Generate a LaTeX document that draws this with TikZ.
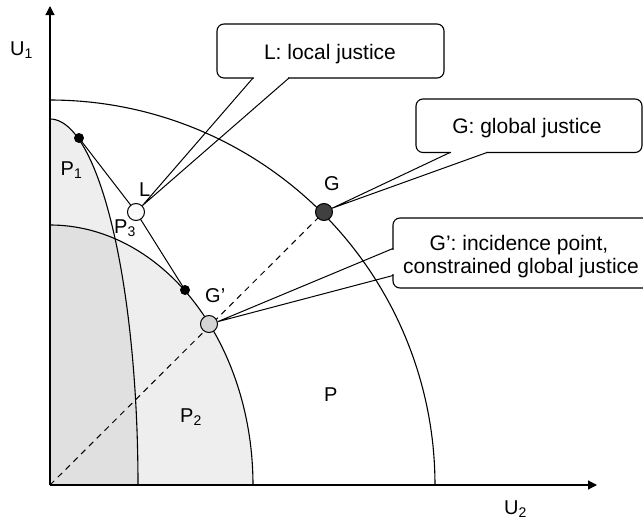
\documentclass[tikz,border=0pt]{standalone}
\usepackage{fontspec}
\setmainfont{Liberation Sans}
\usetikzlibrary{arrows.meta}
\definecolor{lightfill}{HTML}{EEEEEE}
\definecolor{darkfill}{HTML}{E0E0E0}
\definecolor{gdark}{HTML}{404040}
\definecolor{gplight}{HTML}{D4D4D4}
\definecolor{lwhite}{HTML}{FAFAFA}
\begin{document}
\begin{tikzpicture}[x=1pt,y=-1pt,
  curve/.style={line width=1.1pt},
  axis/.style={line width=1.2pt,-{Triangle[length=9pt,width=9pt]}},
  seg/.style={line width=1pt},
  tail/.style={line width=1pt},
  callout/.style={draw,line width=1.1pt,rounded corners=7pt,fill=white},
  lbl/.style={font=\fontsize{20}{24}\selectfont,inner sep=0pt,anchor=base west},
  boxtext/.style={font=\fontsize{21}{24}\selectfont,inner sep=0pt,anchor=base},
  dot/.style={circle,fill=black,inner sep=0pt,minimum size=10pt},
  ptc/.style={circle,draw,line width=1pt,inner sep=0pt,minimum size=17pt}]
\useasboundingbox (0,0) rectangle (643,522);
\coordinate (O) at (50,485);
\coordinate (xend) at (597,485);
\coordinate (yend) at (50,6);
% shaded regions
\fill[lightfill] plot[domain=0:90,samples=80] ({50+88*cos(\x)},{485-366*sin(\x)}) -- (O) -- cycle;
\fill[lightfill] plot[domain=0:90,samples=80] ({50+203*cos(\x)},{485-260*sin(\x)}) -- (O) -- cycle;
\begin{scope}
  \clip plot[domain=0:90,samples=80] ({50+88*cos(\x)},{485-366*sin(\x)}) -- (O) -- cycle;
  \fill[darkfill] plot[domain=0:90,samples=80] ({50+203*cos(\x)},{485-260*sin(\x)}) -- (O) -- cycle;
\end{scope}
% frontiers
\draw[curve] plot[domain=0:90,samples=100,smooth] ({50+88*cos(\x)},{485-366*sin(\x)});
\draw[curve] plot[domain=0:90,samples=100,smooth] ({50+203*cos(\x)},{485-260*sin(\x)});
\draw[curve] plot[domain=0:90,samples=120,smooth] ({50+385*cos(\x)},{485-385*sin(\x)});
% axes
\draw[axis] (O) -- (xend);
\draw[axis] (O) -- (yend);
% points
\coordinate (d1c) at (79,138);
\coordinate (d2c) at (185,290);
\coordinate (Lc) at (136,212);
\coordinate (Gc) at (324,212);
\coordinate (Gpc) at (209,324);
\draw[seg] (d1c) -- (Lc) -- (d2c);
\draw[seg,dashed,dash pattern=on 6pt off 5pt] (O) -- (Gc);
\node[dot] (d1) at (d1c) {};
\node[dot] (d2) at (d2c) {};
\node[ptc,fill=lwhite] (L) at (Lc) {};
\node[ptc,fill=gdark] (G) at (Gc) {};
\node[ptc,fill=gplight] (Gp) at (Gpc) {};
% callout L
\coordinate (Lb1) at (253,78);
\coordinate (Lb2) at (289,78);
\draw[callout] (217,24) rectangle (444,78);
\fill[white] (254,76) rectangle (288,80);
\draw[tail] (Lb1) -- (L.45) -- (Lb2);
\node[boxtext] (Lt) at (330,59) {L: local justice};
% callout G
\coordinate (Gb1) at (450,152.5);
\coordinate (Gb2) at (487,152.5);
\draw[callout] (416,99) rectangle (642,152.5);
\fill[white] (451,150) rectangle (486,155);
\draw[tail] (Gb1) -- (G.25) -- (Gb2);
\node[boxtext] (Gt) at (527,133) {G: global justice};
% callout G'
\coordinate (Gpb1) at (393,248.5);
\coordinate (Gpb2) at (393,275.5);
\draw[callout] (393,218) rectangle (670,288);
\fill[white] (390,250) rectangle (396,274);
\draw[tail] (Gpb1) -- (Gp.15) -- (Gpb2);
\node[boxtext] (Gpt1) at (519,250) {G’: incidence point,};
\node[boxtext] (Gpt2) at (521,273) {constrained global justice};
% labels
\node[lbl] (U1) at (10,55) {U\textsubscript{1}};
\node[lbl] (U2) at (504,514) {U\textsubscript{2}};
\node[lbl] (P1) at (60.5,175) {P\textsubscript{1}};
\node[lbl] (P3) at (114,233) {P\textsubscript{3}};
\node[lbl] (P2) at (180,422) {P\textsubscript{2}};
\node[lbl] (P) at (324,401) {P};
\node[lbl] (Ll) at (139,196) {L};
\node[lbl] (Gl) at (324,190) {G};
\node[lbl] (Gpl) at (205,302) {G’};
\end{tikzpicture}
\end{document}
